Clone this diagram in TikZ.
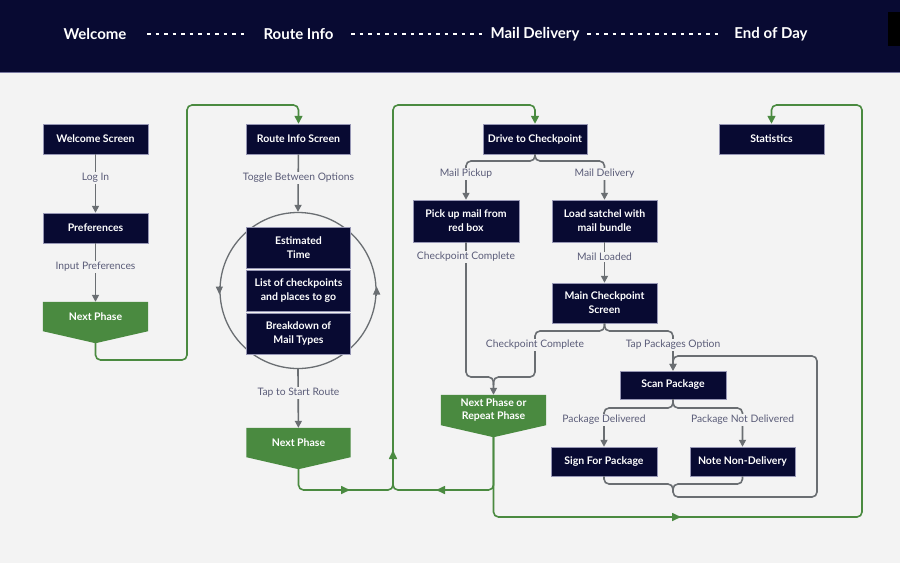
\documentclass[tikz,border=0pt]{standalone}
\usepackage{fontspec}
\setmainfont{Lato}
\usetikzlibrary{arrows.meta,backgrounds}
\definecolor{navy}{RGB}{8,10,50}
\definecolor{bgc}{RGB}{243,243,243}
\definecolor{greenc}{RGB}{74,138,64}
\definecolor{grayc}{RGB}{106,110,114}
\definecolor{lblc}{RGB}{90,92,120}
\definecolor{boxedge}{RGB}{150,150,180}
\definecolor{hline}{RGB}{120,120,160}
\newcommand{\phaseshape}[1]{%
  \fill[greenc] (#1.north west) -- (#1.north east) -- (#1.south east) -- ([yshift=-12pt]#1.south) -- (#1.south west) -- cycle;}
\begin{document}
\begin{tikzpicture}[x=1pt,y=-1pt,
  box/.style={fill=navy,draw=boxedge,line width=0.5pt,text=white,font=\fontsize{10.5}{14}\selectfont\bfseries,minimum width=105pt,minimum height=30pt,align=center,inner sep=1pt},
  phase/.style={text=white,font=\fontsize{10.5}{13}\selectfont\bfseries,minimum width=105pt,minimum height=29pt,align=center,inner sep=1pt},
  lbl/.style={text=lblc,font=\fontsize{10.3}{12}\selectfont,fill=bgc,inner sep=1.5pt},
  hdr/.style={text=white,font=\fontsize{15}{18}\selectfont\bfseries},
  hdash/.style={draw=white,line width=1.2pt,dash pattern=on 3.5pt off 5pt},
  flow/.style={draw=grayc,line width=1.6pt,rounded corners=5pt,-{Triangle[width=7pt,length=7pt]}},
  flowplain/.style={draw=grayc,line width=1.6pt,rounded corners=5pt},
  gflow/.style={draw=greenc,line width=1.6pt,rounded corners=5pt,-{Triangle[width=8pt,length=8pt]}},
  gplain/.style={draw=greenc,line width=1.6pt,rounded corners=5pt},
  gmid/.style={draw=greenc,line width=1.6pt,-{Triangle[width=8pt,length=9pt]}},
  cmid/.style={draw=grayc,line width=1.3pt,-{Triangle[width=7pt,length=8pt]}},
]
\useasboundingbox (0,0) rectangle (900,563);
% header
\fill[navy] (0,0) rectangle (900,72);
\draw[hline,line width=1pt] (0,72.5) -- (900,72.5);
\fill[black] (888,12) rectangle (900,46);
\node[hdr] (hw) at (95,34) {Welcome};
\node[hdr] (hr) at (298.5,34) {Route Info};
\node[hdr] (hm) at (535,34) {Mail Delivery};
\node[hdr] (he) at (771,34) {End of Day};
\draw[hdash] (147,34) -- (247,34);
\draw[hdash] (351,34) -- (483,34);
\draw[hdash] (587,34) -- (720,34);

% column 1
\node[box] (ws) at (95.5,139) {Welcome Screen};
\node[box] (pr) at (95.5,228) {Preferences};
\node[phase] (np1) at (95.5,316.5) {Next Phase};
\coordinate (np1tip) at ([yshift=-12pt]np1.south);

% column 2
\node[box,minimum width=104pt] (ri) at (298.5,139) {Route Info Screen};
\node[draw=grayc,line width=1.3pt,circle,minimum size=156pt,inner sep=0pt] (circ) at (298,290.5) {};
\node[box,minimum width=104pt,minimum height=41pt] (est) at (298.5,247.5) {Estimated\\Time};
\node[box,minimum width=104pt,minimum height=41pt] (lst) at (298.5,291) {List of checkpoints\\and places to go};
\node[box,minimum width=104pt,minimum height=41pt] (brk) at (298.5,333.5) {Breakdown of\\Mail Types};
\node[phase,minimum width=104pt] (np2) at (298.5,442.5) {Next Phase};
\coordinate (np2tip) at ([yshift=-12pt]np2.south);

% column 3
\node[box,minimum width=104pt] (dc) at (535,139) {Drive to Checkpoint};
\node[box,minimum width=106pt,minimum height=42pt] (pu) at (466,221) {Pick up mail from\\red box};
\node[box,minimum height=42pt] (ls) at (604.5,221) {Load satchel with\\mail bundle};
\node[box,minimum height=40pt] (mc) at (604.5,303) {Main Checkpoint\\Screen};
\node[phase,minimum height=30pt] (npr) at (493.5,410) {Next Phase or\\Repeat Phase};
\coordinate (nprtip) at ([yshift=-12pt]npr.south);
\node[box,minimum width=106pt,minimum height=28pt] (sp) at (673,385) {Scan Package};
\node[box,minimum width=106pt,minimum height=29pt] (sg) at (604,461.5) {Sign For Package};
\node[box,minimum height=29pt] (nd) at (742.5,461.5) {Note Non-Delivery};
\node[box] (st) at (771.5,139) {Statistics};

\begin{pgfonlayer}{background}
\fill[bgc] (0,73) rectangle (900,563);
\phaseshape{np1}
\phaseshape{np2}
\phaseshape{npr}
\end{pgfonlayer}

% gray connectors column 1
\draw[flow] (ws) -- (pr);
\node[lbl] (l1) at (95.5,178) {Log In};
\draw[flow] (pr) -- (np1);
\node[lbl] (l2) at (95.5,267) {Input Preferences};

% column 2
\draw[flow] (ri) -- (circ.north);
\node[lbl] (l3) at (298.5,178) {Toggle Between Options};
\draw[cmid] ([yshift=5pt]circ.west) -- ([yshift=-4pt]circ.west);
\draw[cmid] ([yshift=-5pt]circ.east) -- ([yshift=4pt]circ.east);
\draw[flow] (circ.south) -- (np2);
\node[lbl] (l4) at (298.5,393) {Tap to Start Route};

% column 3
\draw[flow] (dc.south) -- (535,161) -| (pu.north);
\draw[flow] (dc.south) -- (535,161) -| (ls.north);
\node[lbl] (l5) at (466,174) {Mail Pickup};
\node[lbl] (l6) at (604.5,174) {Mail Delivery};
\draw[flow] (ls) -- (mc);
\node[lbl] (l7) at (604.5,257) {Mail Loaded};
\draw[flow] (pu.south) -- (466,377) -- (493.5,377) -- (npr.north);
\node[lbl] (l8) at (466,257) {Checkpoint Complete};
\draw[flowplain] (mc.south) -- (604.5,331) -- (535,331) -- (535,377) -- (493.5,377) -- (493.5,385);
\draw[flow] (mc.south) -- (604.5,331) -- (673,331) -- (sp.north);
\node[lbl] (l9) at (535,345) {Checkpoint Complete};
\node[lbl] (l10) at (673,345) {Tap Packages Option};
\draw[flow] (sp.south) -- (673,408) -| (sg.north);
\draw[flow] (sp.south) -- (673,408) -| (nd.north);
\node[lbl] (l11) at (604,420) {Package Delivered};
\node[lbl] (l12) at (742.5,420) {Package Not Delivered};
\draw[flowplain] (sg.south) -- (604,484) -- (673,484) -- (673,490);
\draw[flow] (nd.south) -- (742.5,484) -- (673,484) -- (673,497) -- (817,497) -- (817,356) -- (673,356) -- (sp.north);

% green connectors
\draw[gflow] (np1tip) -- (95.5,360) -- (187,360) -- (187,105) -- (298.5,105) -- (ri.north);
\draw[gflow] (np2tip) -- (298.5,490) -- (393,490) -- (393,105) -- (535,105) -- (dc.north);
\draw[gplain] (nprtip) -- (493.5,490) -- (393,490) -- (393,470);
\draw[gflow] (nprtip) -- (493.5,517) -- (862,517) -- (862,105) -- (771.5,105) -- (st.north);
\draw[gmid] (340,490) -- (350,490);
\draw[gmid] (393,460) -- (393,450);
\draw[gmid] (446,490) -- (436,490);
\draw[gmid] (671,517) -- (681,517);
\end{tikzpicture}
\end{document}
